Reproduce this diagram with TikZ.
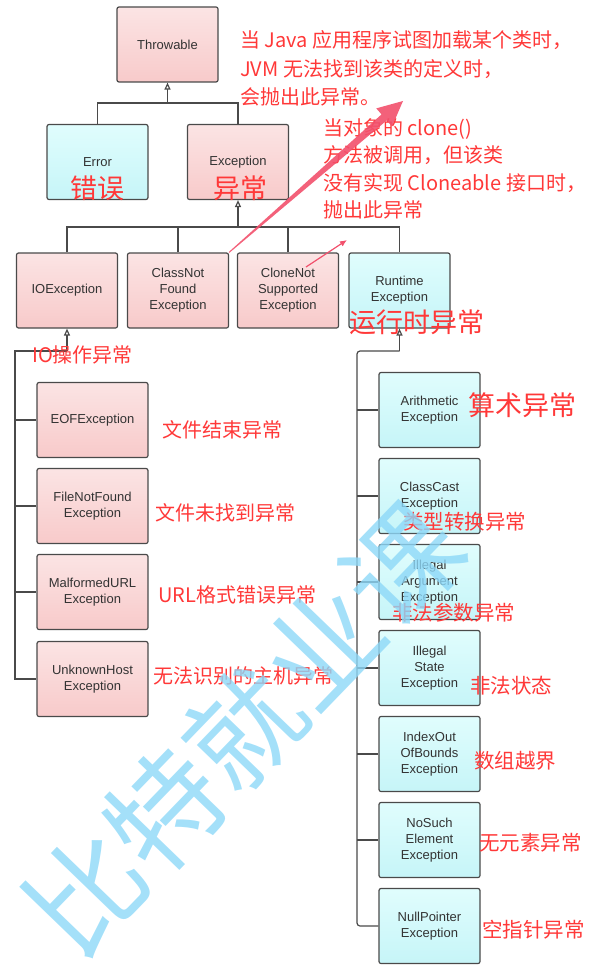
\documentclass[tikz,border=0pt]{standalone}
\usepackage{fontspec}
\setmainfont{Liberation Sans}
\newfontfamily\cjk{Noto Sans CJK SC}
\usetikzlibrary{arrows.meta,calc}
\definecolor{boxline}{HTML}{4A4A4A}
\definecolor{boxtext}{HTML}{333333}
\definecolor{pinktop}{HTML}{FBE4E4}
\definecolor{pinkbot}{HTML}{F8CACA}
\definecolor{cyantop}{HTML}{E0FDFD}
\definecolor{cyanbot}{HTML}{C6F5F8}
\definecolor{notered}{HTML}{FF3838}
\definecolor{arrowred}{HTML}{F2506C}
\definecolor{markblue}{HTML}{8DD8F8}

\begin{document}
\begin{tikzpicture}[x=1pt,y=-1pt,>={Triangle[open,length=7pt,width=6pt]}]
    \tikzstyle{cls} = [draw=boxline,line width=1.2pt,rounded corners=2pt,minimum width=101pt,minimum height=75pt,align=center,text=boxtext,font=\fontsize{13}{16}\selectfont,inner sep=2pt]
    \tikzstyle{err} = [cls,top color=pinktop,bottom color=pinkbot]
    \tikzstyle{run} = [cls,top color=cyantop,bottom color=cyanbot]
    \tikzstyle{tree} = [draw=boxline,line width=1.2pt]
    \tikzstyle{note} = [text=notered,inner sep=0pt,align=left]
    \useasboundingbox (0,0) rectangle (592,971);
    % upper part of the tree
    \node[err] (Throwable) at (167.5,44.5) {Throwable};
    \node[run] (Error) at (97.5,162) {Error};
    \node[err] (Exception) at (238,162) {Exception};
    \node[err] (IOException) at (67,290.5) {IOException};
    \node[err] (ClassNotFound) at (178,290.5) {ClassNot\\Found\\Exception};
    \node[err] (CloneNot) at (288,290.5) {CloneNot\\Supported\\Exception};
    \node[run] (Runtime) at (399.5,290.5) {Runtime\\Exception};
    \coordinate (jThrow) at (167.5,103);
    \draw[tree] (Error.north) |- (jThrow) -| (Exception.north);
    \draw[tree,->] (jThrow) -- (Throwable.south);
    \coordinate (jExc) at (238,227);
    \draw[tree] (IOException.north) |- (jExc) -| (Runtime.north);
    \draw[tree] (ClassNotFound.north) -- (ClassNotFound.north |- jExc);
    \draw[tree] (CloneNot.north) -- (CloneNot.north |- jExc);
    \draw[tree,->] (jExc) -- (Exception.south);
    % IOException subclasses
    \foreach \n/\txt/\y/\lx/\ly/\lbl in {EOF/{EOFException}/420/162/430/文件结束异常,
      FileNotFound/{FileNotFound\\Exception}/506/155/513/文件未找到异常,
      Malformed/{MalformedURL\\Exception}/592/158/595/URL格式错误异常,
      UnknownHost/{UnknownHost\\Exception}/679/153/676/无法识别的主机异常}
    {
      \node[err,minimum width=111pt] (\n) at (92.5,\y) {\txt};
      \node[note,anchor=west,font=\cjk\fontsize{20}{24}\selectfont] (lbl\n) at (\lx,\ly) {\lbl};
    }
    \coordinate (jIO) at (67,351);
    \coordinate (ioRail) at (15,351);
    \draw[tree,->] (jIO) -- (IOException.south);
    \draw[tree] (jIO) -- (ioRail) |- (UnknownHost.west);
    \foreach \n in {EOF,FileNotFound,Malformed}
      \draw[tree] (ioRail |- \n.west) -- (\n.west);
    % RuntimeException subclasses
    \foreach \n/\txt/\y/\lx/\ly/\fs/\lbl in {Arithmetic/{Arithmetic\\Exception}/410/468/405/27/算术异常,
      ClassCast/{ClassCast\\Exception}/496/403/522/20.5/类型转换异常,
      IllegalArg/{Illegal\\Argument\\Exception}/582/392/613/20.5/非法参数异常,
      IllegalState/{Illegal\\State\\Exception}/668/470/686/20.5/非法状态,
      IndexOut/{IndexOut\\OfBounds\\Exception}/754/474/761/20.5/数组越界,
      NoSuch/{NoSuch\\Element\\Exception}/840/479/843/20.5/无元素异常,
      NullPointer/{NullPointer\\Exception}/926/482/930/20.5/空指针异常}
    {
      \node[run] (\n) at (429.5,\y) {\txt};
      \node[note,anchor=west,font=\cjk\fontsize{\fs}{\fs}\selectfont] (lbl\n) at (\lx,\ly) {\lbl};
    }
    \coordinate (jRun) at (399.5,351);
    \coordinate (rtRail) at (357,351);
    \draw[tree,->] (jRun) -- (Runtime.south);
    \draw[tree,rounded corners=3pt] (jRun) -- (rtRail) |- (NullPointer.west);
    \foreach \n in {Arithmetic,ClassCast,IllegalArg,IllegalState,IndexOut,NoSuch}
      \draw[tree] (rtRail |- \n.west) -- (\n.west);
    % red notes
    \node[note,font=\cjk\fontsize{27}{27}\selectfont] (lblError) at (97.5,188) {错误};
    \node[note,font=\cjk\fontsize{27}{27}\selectfont] (lblException) at (240,188) {异常};
    \node[note,anchor=west,font=\cjk\fontsize{27}{27}\selectfont] (lblRuntime) at (349,322) {运行时异常};
    \node[note,anchor=west,font=\cjk\fontsize{20}{24}\selectfont] (lblIO) at (32,355) {IO操作异常};
    \node[note,anchor=west,font=\cjk\fontsize{20}{28.5}\selectfont] (noteClassNot) at (240,68.5)
      {当 Java 应用程序试图加载某个类时，\\JVM 无法找到该类的定义时，\\会抛出此异常。};
    \node[note,anchor=west,font=\cjk\fontsize{20}{27.5}\selectfont] (noteCloneNot) at (323,169)
      {当对象的 clone()\\方法被调用，但该类\\没有实现 Cloneable 接口时，\\抛出此异常};
    % pointers
    \coordinate (tipA) at (403,101);
    \coordinate (neckA) at ($(tipA)!25pt!(ClassNotFound.north east)$);
    \fill[arrowred,opacity=.9] ($(ClassNotFound.north east)!0.5pt!90:(tipA)$) -- ($(neckA)!4pt!90:(tipA)$)
      -- ($(neckA)!12pt!90:(tipA)$) -- (tipA) -- ($(neckA)!12pt!-90:(tipA)$)
      -- ($(neckA)!4pt!-90:(tipA)$) -- ($(ClassNotFound.north east)!0.5pt!-90:(tipA)$) -- cycle;
    \coordinate (cnStart) at (306,267);
    \coordinate (tipB) at (347,240);
    \draw[arrowred,line width=1.2pt,-{Latex[length=7pt,width=6pt]}] (cnStart) -- (tipB);
    % watermark
    \node[text=markblue,rotate=46,opacity=.8,font=\cjk\fontsize{114}{114}\selectfont] (watermark) at (244,728) {比特就业课};
\end{tikzpicture}
\end{document}
